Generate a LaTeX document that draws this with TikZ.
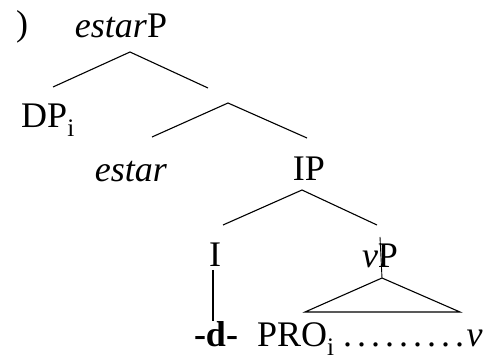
\documentclass[tikz,border=0pt]{standalone}
\usepackage{fontspec}
\setmainfont{Liberation Serif}
\newcommand\ldot{\makebox[14pt]{.}}
\tikzset{
  lbl/.style={anchor=base,inner sep=0pt,font=\fontsize{36}{40}\selectfont},
  branch/.style={line width=1.1pt}
}
\begin{document}
\begin{tikzpicture}[x=1pt,y=-1pt]

      \useasboundingbox (0,0) rectangle (485,358);
      % labels
      \node[lbl] (paren) at (22,36) {)};
      \node[lbl] (estarP) at (121,38) {\textit{estar}P};
      \node[lbl] (DP) at (48,128) {DP\textsubscript{i}};
      \node[lbl] (estar) at (131,182) {\textit{estar}};
      \node[lbl] (IP) at (309,181) {IP};
      \node[lbl] (I) at (215,267) {I};
      \node[lbl] (vP) at (380,268) {\textit{v}P};
      \node[lbl] (d) at (216,347) {\textbf{-d-}};
      \node[lbl,anchor=base west] (PRO) at (257,347) {PRO\textsubscript{i}\hspace{6pt}\ldot\ldot\ldot\ldot\ldot\ldot\ldot\ldot\ldot\textit{v}};
      % branch points
      \coordinate (b1) at (130,52);  \coordinate (b1l) at (53,87);   \coordinate (b1r) at (208,88);
      \coordinate (b2) at (228,103); \coordinate (b2l) at (152,137); \coordinate (b2r) at (307,138);
      \coordinate (b3) at (302,190); \coordinate (b3l) at (223,225); \coordinate (b3r) at (377,225);
      \draw[branch] (b1l) -- (b1) -- (b1r);
      \draw[branch] (b2l) -- (b2) -- (b2r);
      \draw[branch] (b3l) -- (b3) -- (b3r);
      \draw[line width=2.6pt] (213,270) -- (213,321);
      % triangle under vP
      \coordinate (tri) at (382,278);
      \draw[line width=0.9pt] (380,237) -- (tri);
      \draw[branch] (tri) -- (305,312) -- (460,312) -- cycle;

\end{tikzpicture}
\end{document}
